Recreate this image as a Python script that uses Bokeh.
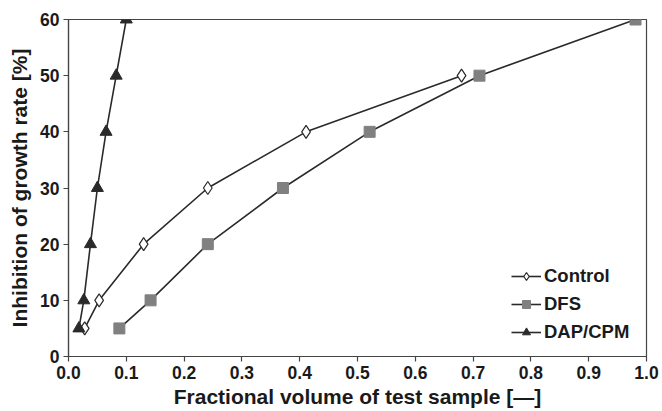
from bokeh.plotting import figure
from bokeh.models import Range1d, FixedTicker, Legend, LegendItem, NumeralTickFormatter
from bokeh.embed import file_html
from bokeh.resources import INLINE

control_x = [0.028, 0.053, 0.130, 0.241, 0.411, 0.680]
control_y = [5, 10, 20, 30, 40, 50]
dfs_x = [0.088, 0.142, 0.241, 0.371, 0.521, 0.711, 0.981]
dfs_y = [5, 10, 20, 30, 40, 50, 60]
dap_x = [0.018, 0.0265, 0.038, 0.050, 0.065, 0.0825, 0.100]
dap_y = [5, 10, 20, 30, 40, 50, 60]
x_ticks = [0.0, 0.1, 0.2, 0.3, 0.4, 0.5, 0.6, 0.7, 0.8, 0.9, 1.0]
y_ticks = [0, 10, 20, 30, 40, 50, 60]

FONT = "Liberation Sans"
AX = "#444444"
LINE = "#2a2a2a"

p = figure(width=662, height=411, output_backend="svg", toolbar_location=None,
           x_range=Range1d(0, 1), y_range=Range1d(0, 60),
           min_border_left=68, min_border_right=16, min_border_top=19, min_border_bottom=55)
p.background_fill_color = "white"
p.border_fill_color = "white"
p.outline_line_color = AX
p.outline_line_width = 1.2
p.xgrid.visible = False
p.ygrid.visible = False

for ax in (p.xaxis[0], p.yaxis[0]):
    ax.axis_line_color = AX
    ax.axis_line_width = 1.2
    ax.major_tick_line_color = AX
    ax.major_tick_line_width = 1.2
    ax.major_tick_out = 5
    ax.major_tick_in = 0
    ax.minor_tick_line_color = None
    ax.major_label_text_font = FONT
    ax.major_label_text_font_style = "bold"
    ax.major_label_text_font_size = "17.5px"
    ax.major_label_text_color = "#1a1a1a"
    ax.axis_label_text_font = FONT
    ax.axis_label_text_font_style = "bold"
    ax.axis_label_text_font_size = "21px"
    ax.axis_label_text_color = "#1a1a1a"

p.xaxis.ticker = FixedTicker(ticks=x_ticks)
p.xaxis.formatter = NumeralTickFormatter(format="0.0")
p.yaxis.ticker = FixedTicker(ticks=y_ticks)
p.xaxis.axis_label = "Fractional volume of test sample [\u2014]"
p.yaxis.axis_label = "Inhibition of growth rate [%]"
p.xaxis.axis_label_standoff = 3
p.yaxis.axis_label_standoff = 6
p.xaxis.major_label_standoff = 4
p.yaxis.major_label_standoff = 4

cl = p.line(control_x, control_y, line_color=LINE, line_width=1.6)
cs = p.scatter(control_x, control_y, marker="diamond", size=13, fill_color="white",
               line_color=LINE, line_width=1.2)
dl = p.line(dfs_x, dfs_y, line_color=LINE, line_width=1.6)
ds = p.scatter(dfs_x, dfs_y, marker="square", size=11, fill_color="#808080",
               line_color="#808080")
al = p.line(dap_x, dap_y, line_color=LINE, line_width=1.6)
as_ = p.scatter(dap_x, dap_y, marker="triangle", size=12, fill_color="#2a2a2a",
                line_color="#2a2a2a")

legend = Legend(items=[
    LegendItem(label="Control", renderers=[cl, cs]),
    LegendItem(label="DFS", renderers=[dl, ds]),
    LegendItem(label="DAP/CPM", renderers=[al, as_]),
], location=(443, 13))
legend.border_line_color = None
legend.background_fill_alpha = 0
legend.padding = 0
legend.margin = 0
legend.spacing = 6
legend.glyph_width = 30
legend.glyph_height = 20
legend.label_standoff = 3
legend.label_text_font = FONT
legend.label_text_font_style = "bold"
legend.label_text_font_size = "18.5px"
legend.label_text_color = "#1a1a1a"
p.add_layout(legend, "center")

open("out.html", "w").write(file_html(p, INLINE))
